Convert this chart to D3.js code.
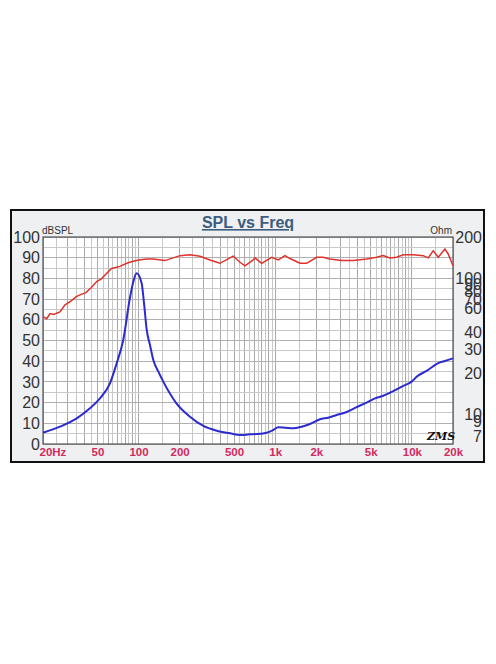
<!DOCTYPE html>
<html><head><meta charset="utf-8">
<script src="https://cdn.jsdelivr.net/npm/d3@7/dist/d3.min.js"></script>
<style>
html,body{margin:0;padding:0;background:#fff;}
svg{display:block;font-family:"Liberation Sans",Arial,sans-serif;}
</style></head><body>
<svg id="c" width="496" height="664"></svg>
<script>
// ---- data ----
const splFreq = [20,21.3,22.5,24,25.2,26.6,29,32,35,38,41,45,49.4,53.5,58.3,63.4,68,73.2,82,90,100,115,128,156,201,238,282,333,394,493,552,601,690,711,796,942,1053,1179,1283,1517,1698,2010,2245,2513,3061,3725,4665,5520,6170,6905,7730,8650,10230,12110,13180,14330,15590,17450,18450,20000];
const splDb   = [61.5,60.5,63,62.6,63.2,63.8,67.2,69,71.2,72.3,73,75.5,78.5,79.8,82.4,84.8,85.3,85.8,87.3,88.2,88.9,89.4,89.4,88.6,91,91.4,90.7,88.9,87.3,90.8,87.8,86.1,88.9,89.9,87.3,90.2,88.9,91,89.6,87.3,87.3,90.2,90.2,89.4,88.6,88.6,89.4,90.2,91,89.9,90.2,91.4,91.4,91,89.9,93.4,90.2,94.2,91.8,86.1];
const impFreq = [20,26.6,35.3,44.1,52.2,61.8,69.2,77.3,86.5,91.6,96.9,105.4,110,114.8,121.3,128.3,140,151.7,190,238,298,373,467,552,653,731,865,968,1053,1179,1356,1561,1796,2124,2443,2813,3331,3944,4665,5370,6170,7310,8650,9960,10830,12830,16030,17450,20000];
const impOhm  = [7.40,8.19,9.43,11.17,13.2,17.0,23.8,35.3,71.6,94.2,108.5,91.7,63.7,41.8,32.4,25.2,20.6,17.5,12.1,9.69,8.29,7.66,7.33,7.12,7.20,7.24,7.40,7.75,8.11,8.06,7.97,8.19,8.57,9.28,9.53,9.97,10.5,11.4,12.3,13.2,13.8,14.9,16.3,17.5,19.0,21.0,24.2,24.8,25.9];
const xTickVals = [20,50,100,200,500,1000,2000,5000,10000,20000];
const xTickLabels = ["20Hz","50","100","200","500","1k","2k","5k","10k","20k"];
const leftTicks = [0,10,20,30,40,50,60,70,80,90,100];
const rightTicks = [200,100,90,80,70,60,40,30,20,10,9,7];

// ---- layout ----
const svg = d3.select("#c");
const L = 43, R = 453, T = 237, B = 444;

svg.append("rect").attr("x",11).attr("y",210).attr("width",473).attr("height",252)
  .attr("fill","#eef0f2").attr("stroke","#111").attr("stroke-width",2);

const x = d3.scaleLog().domain([20,20000]).range([L,R]);
const yL = d3.scaleLinear().domain([0,100]).range([B,T]);
const yR = d3.scaleLog().domain([6.12,200]).range([B,T]);

svg.append("rect").attr("x",L).attr("y",T).attr("width",R-L).attr("height",B-T).attr("fill","#fff");

// vertical grid
const vgrid = [];
[10,100,1000,10000].forEach(d=>{ for(let k=1;k<10;k+=0.5){ const v=d*k; if(v>=20 && v<=20000) vgrid.push({v, major: Number.isInteger(k)}); } });
vgrid.push({v:20000,major:true});
svg.append("g").selectAll("line").data(vgrid).join("line")
  .attr("x1",d=>x(d.v)).attr("x2",d=>x(d.v)).attr("y1",T).attr("y2",B)
  .attr("stroke",d=>d.major?"#a8a8a8":"#c8c8c8").attr("stroke-width",1).attr("shape-rendering","crispEdges");
// horizontal grid
const hgrid = d3.range(0,101,5);
svg.append("g").selectAll("line").data(hgrid).join("line")
  .attr("x1",L).attr("x2",R).attr("y1",d=>yL(d)).attr("y2",d=>yL(d))
  .attr("stroke",d=>d%10===0?"#b0b0b0":"#c8c8c8").attr("stroke-width",1).attr("shape-rendering","crispEdges");

svg.append("rect").attr("x",L).attr("y",T).attr("width",R-L).attr("height",B-T)
  .attr("fill","none").attr("stroke","#555").attr("stroke-width",1.2);

// curves
const spl = splFreq.map((f,i)=>[f,splDb[i]]);
const imp = impFreq.map((f,i)=>[f,impOhm[i]]);
svg.append("path").datum(spl).attr("fill","none").attr("stroke","#e0312b").attr("stroke-width",1.5)
  .attr("d",d3.line().x(d=>x(d[0])).y(d=>yL(d[1])));
svg.append("path").datum(imp).attr("fill","none").attr("stroke","#2b2bd0").attr("stroke-width",2)
  .attr("d",d3.line().curve(d3.curveMonotoneX).x(d=>x(d[0])).y(d=>yR(d[1])));

// left axis
const gl = svg.append("g").attr("transform",`translate(${L},0)`)
  .call(d3.axisLeft(yL).tickValues(leftTicks).tickSize(0).tickPadding(3));
gl.select(".domain").remove();
gl.selectAll("text").attr("font-size",16).attr("fill","#333").attr("font-family","Liberation Sans, Arial, sans-serif");

// right axis
const gr = svg.append("g").attr("transform",`translate(${R},0)`)
  .call(d3.axisRight(yR).tickValues(rightTicks).tickFormat(d3.format("d")).tickSize(0));
gr.select(".domain").remove();
gr.selectAll("text").attr("x",29).attr("text-anchor","end").attr("font-size",16).attr("fill","#333").attr("font-family","Liberation Sans, Arial, sans-serif");

// bottom axis
const gb = svg.append("g").attr("transform",`translate(0,${B})`)
  .call(d3.axisBottom(x).tickValues(xTickVals).tickFormat((d,i)=>xTickLabels[i]).tickSize(0).tickPadding(4));
gb.select(".domain").remove();
gb.selectAll("text").attr("font-size",11.5).attr("font-weight","bold").attr("fill","#d42a5e").attr("font-family","Liberation Sans, Arial, sans-serif");
gb.selectAll("text").filter((d,i)=>i===0).attr("text-anchor","start").attr("x",-4);

// titles
svg.append("text").attr("x",248).attr("y",228).attr("text-anchor","middle")
  .attr("font-size",16).attr("font-weight","bold").attr("fill","#3d5d7e")
  .attr("text-decoration","underline").text("SPL vs Freq");
svg.append("text").attr("x",42).attr("y",234).attr("font-size",10).attr("fill","#333").text("dBSPL");
svg.append("text").attr("x",452).attr("y",234).attr("text-anchor","end").attr("font-size",10).attr("fill","#333").text("Ohm");
svg.append("text").attr("x",427).attr("y",440).attr("font-size",11).attr("font-style","italic").attr("font-weight","bold")
  .attr("font-family","DejaVu Serif, serif").attr("fill","#111").text("ZMS");
</script>
</body></html>
